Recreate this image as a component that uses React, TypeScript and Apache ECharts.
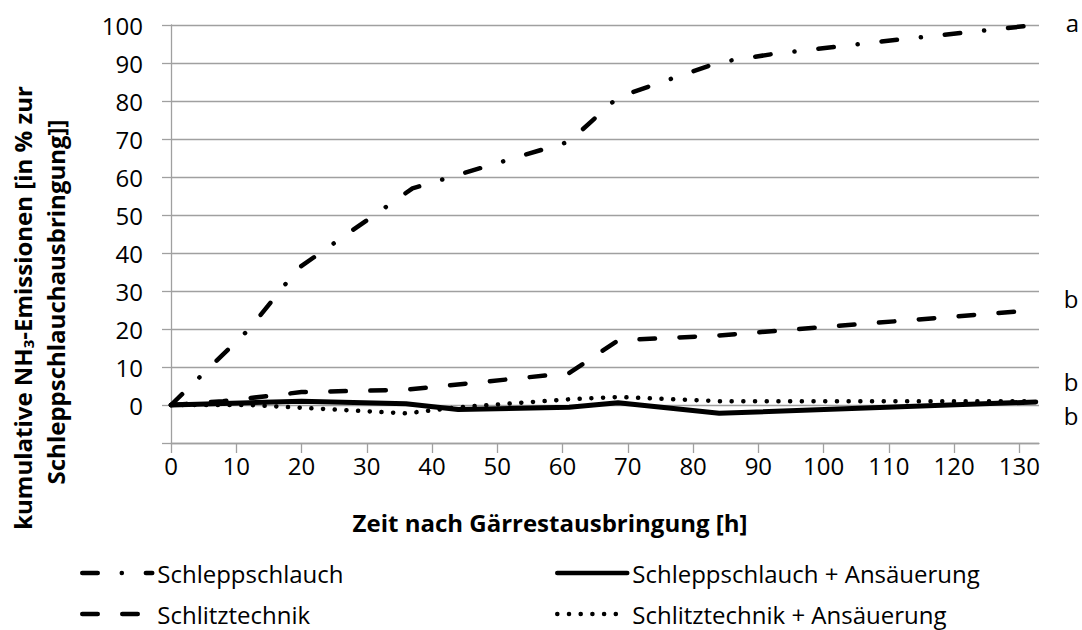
import React, { useEffect, useRef } from "react";
import * as echarts from "echarts";

// ---- data ----
const seriesNames = [
  "Schleppschlauch",
  "Schleppschlauch + Ansäuerung",
  "Schlitztechnik",
  "Schlitztechnik + Ansäuerung",
];

const hoursSchleppschlauch = [0, 12, 19.5, 37, 61, 68.5, 84, 92, 108, 132.5];
const valuesSchleppschlauch = [0, 20, 36, 57, 69.3, 81, 90.2, 92.3, 95.5, 100];

const hoursSchleppAns = [0, 12, 20, 36, 44, 61, 68.5, 84, 132.5];
const valuesSchleppAns = [0, 0.6, 1, 0.3, -1.2, -0.6, 0.6, -2.2, 0.8];

const hoursSchlitztechnik = [0, 8, 20, 36, 61, 68.5, 84, 132.5];
const valuesSchlitztechnik = [0, 1, 3.4, 4, 8.4, 17, 18.3, 25];

const hoursSchlitzAns = [0, 12, 36, 44, 61, 68.5, 84, 132.5];
const valuesSchlitzAns = [0, 0, -2.2, -0.6, 1.5, 2.1, 1, 1];

const xTickValues = [0, 10, 20, 30, 40, 50, 60, 70, 80, 90, 100, 110, 120, 130];
const yLabelValues = [0, 10, 20, 30, 40, 50, 60, 70, 80, 90, 100];
const significanceLetters = ["a", "b", "b", "b"];

const xTitle = "Zeit nach Gärrestausbringung [h]";
const yTitleLine1 = "kumulative NH{sub|3}-Emissionen [in % zur";
const yTitleLine2 = "Schleppschlauchausbringung]]";

const FONT = "'Open Sans', 'Noto Sans', sans-serif";
const GRAY = "#a0a0a0";
const FS = 24;

function pairs(xs: number[], ys: number[]) {
  return xs.map((x, i) => [x, ys[i]]);
}

export default function App() {
  const ref = useRef<HTMLDivElement>(null);

  useEffect(() => {
    if (!ref.current) return;
    const chart = echarts.init(ref.current, undefined, { renderer: "svg" });

    const labelStyle = {
      show: true,
      fontFamily: FONT,
      fontSize: FS,
      color: "#000",
      distance: 0,
    };

    const legendCommon = {
      top: 561,
      orient: "vertical",
      padding: 0,
      itemGap: 17,
      itemWidth: 70,
      itemHeight: 14,
      selectedMode: false,
      textStyle: { fontFamily: FONT, fontSize: FS, color: "#000" },
      lineStyle: { width: 4.5 },
      itemStyle: { opacity: 0 },
    };

    const option: any = {
      animation: false,
      backgroundColor: "#fff",
      grid: { left: 171, right: 43, top: 25, bottom: 187, containLabel: false },
      xAxis: {
        type: "value",
        min: 0,
        max: 133,
        interval: 10,
        axisLine: { show: true, onZero: false, lineStyle: { color: GRAY, width: 1.3 } },
        axisTick: {
          show: true,
          inside: false,
          length: 10,
          customValues: xTickValues,
          lineStyle: { color: GRAY, width: 1.3 },
        },
        axisLabel: {
          customValues: xTickValues,
          margin: 10,
          fontFamily: FONT,
          fontSize: FS,
          color: "#000",
        },
        splitLine: { show: false },
      },
      yAxis: {
        type: "value",
        min: -10,
        max: 100,
        interval: 10,
        axisLine: { show: true, onZero: false, lineStyle: { color: GRAY, width: 1.3 } },
        axisTick: { show: true, inside: false, length: 9, lineStyle: { color: GRAY, width: 1.3 } },
        axisLabel: {
          customValues: yLabelValues,
          margin: 28,
          fontFamily: FONT,
          fontSize: FS,
          color: "#000",
        },
        splitLine: { show: true, lineStyle: { color: GRAY, width: 1.3 } },
      },
      legend: [
        { ...legendCommon, left: 80, data: [seriesNames[0], seriesNames[2]] },
        { ...legendCommon, left: 555, data: [seriesNames[1], seriesNames[3]] },
      ],
      series: [
        {
          name: seriesNames[0],
          type: "line",
          symbol: "none",
          showSymbol: false,
          data: pairs(hoursSchleppschlauch, valuesSchleppschlauch),
          lineStyle: { color: "#000", width: 4.5, type: [15.5, 24, 0.1, 24], cap: "round" },
          itemStyle: { color: "#000" },
          endLabel: { ...labelStyle, formatter: significanceLetters[0], offset: [30, -3] },
        },
        {
          name: seriesNames[1],
          type: "line",
          symbol: "none",
          showSymbol: false,
          data: pairs(hoursSchleppAns, valuesSchleppAns),
          lineStyle: { color: "#000", width: 5, type: "solid", cap: "round" },
          itemStyle: { color: "#000" },
          endLabel: { ...labelStyle, formatter: significanceLetters[3], offset: [28, 14] },
        },
        {
          name: seriesNames[2],
          type: "line",
          symbol: "none",
          showSymbol: false,
          data: pairs(hoursSchlitztechnik, valuesSchlitztechnik),
          lineStyle: { color: "#000", width: 4.5, type: [15.5, 24.5], cap: "round" },
          itemStyle: { color: "#000" },
          endLabel: { ...labelStyle, formatter: significanceLetters[1], offset: [28, -12] },
        },
        {
          name: seriesNames[3],
          type: "line",
          symbol: "none",
          showSymbol: false,
          data: pairs(hoursSchlitzAns, valuesSchlitzAns),
          lineStyle: { color: "#000", width: 4.5, type: [0.1, 11.6], cap: "round" },
          itemStyle: { color: "#000" },
          endLabel: { ...labelStyle, formatter: significanceLetters[2], offset: [28, -20] },
        },
      ],
      graphic: [
        {
          type: "text",
          x: 550,
          y: 522,
          style: {
            text: xTitle,
            fontFamily: FONT,
            fontSize: FS,
            fontWeight: "bold",
            fill: "#000",
            align: "center",
            verticalAlign: "middle",
          },
        },
        {
          type: "text",
          x: 22,
          y: 308,
          rotation: Math.PI / 2,
          style: {
            text: yTitleLine1,
            fontFamily: FONT,
            fontSize: FS,
            fontWeight: "bold",
            fill: "#000",
            align: "center",
            verticalAlign: "middle",
            rich: {
              sub: {
                fontFamily: FONT,
                fontSize: 15,
                fontWeight: "bold",
                fill: "#000",
                padding: [12, 0, 0, 0],
              },
            },
          },
        },
        {
          type: "text",
          x: 55,
          y: 302,
          rotation: Math.PI / 2,
          style: {
            text: yTitleLine2,
            fontFamily: FONT,
            fontSize: FS,
            fontWeight: "bold",
            fill: "#000",
            align: "center",
            verticalAlign: "middle",
          },
        },
      ],
    };

    chart.setOption(option);
    return () => chart.dispose();
  }, []);

  return (
    <div
      ref={ref}
      style={{ position: "fixed", left: 0, top: 0, width: 1082, height: 630, background: "#fff" }}
    />
  );
}
